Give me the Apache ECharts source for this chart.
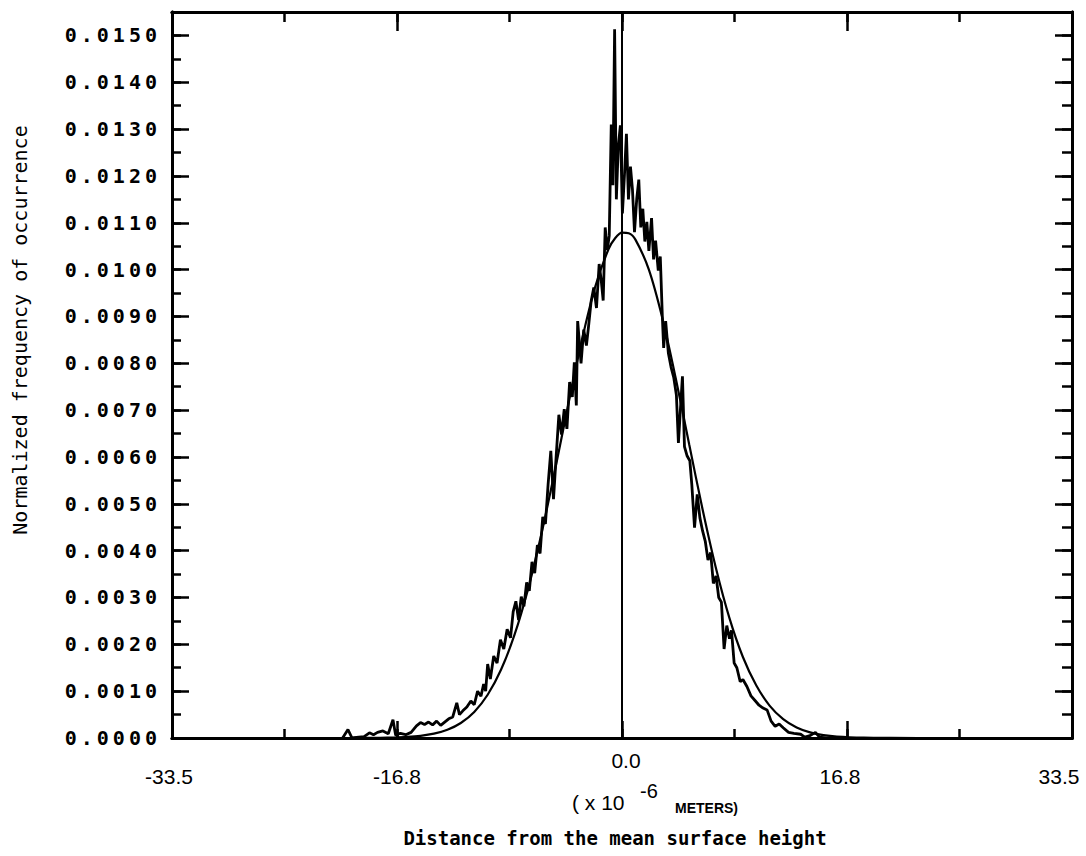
<!DOCTYPE html>
<html><head><meta charset="utf-8">
<script src="https://cdn.jsdelivr.net/npm/echarts@6/dist/echarts.min.js"></script>
<style>
html,body{margin:0;padding:0;background:#fff}
#c{width:1086px;height:856px}
#c text[text-anchor="end"]{letter-spacing:4px}
</style>
</head><body><div id="c"></div>
<script>
// X tick values and their printed labels
const xTickValues = [-33.5, -16.75, 0, 16.75, 33.5];
const xTickLabels = ['-33.5', '-16.8', '0.0', '16.8', '33.5'];

// Fitted normal curve
const fitU = [-33.5, -24, -20, -18, -17, -16, -15, -14, -13, -12, -11, -10, -9, -8, -7, -6, -5, -4, -3, -2, -1, -0.5, 0, 0.5, 1, 2, 3, 4, 5, 6, 7, 8, 9, 10, 11, 12, 13, 14, 15, 16, 18, 20, 24, 33.5];
const fitV = [0, 0, 0.000001, 0.000004, 0.00001, 0.000022, 0.000046, 0.000092, 0.000176, 0.000321, 0.000557, 0.000924, 0.001462, 0.002205, 0.003172, 0.004355, 0.0057, 0.00712, 0.00848, 0.00963, 0.01044, 0.010676, 0.01079, 0.010777, 0.01064, 0.0100, 0.00897, 0.00768, 0.00627, 0.00488, 0.00362, 0.00256, 0.00173, 0.00112, 0.000687, 0.000403, 0.000225, 0.00012, 0.000061, 0.00003, 0.000006, 0.000001, 0, 0];

const histU = [-20.8, -20.4, -20.1, -19.6, -19.2, -18.8, -18.5, -18.2, -17.8, -17.4, -17.05, -16.85, -16.5, -16.1, -15.7, -15.3, -15.0, -14.7, -14.4, -14.1, -13.8, -13.5, -13.2, -12.9, -12.6, -12.3, -12.1, -11.85, -11.55, -11.25, -11.0, -10.75, -10.5, -10.3, -10.15, -10.0, -9.8, -9.55, -9.3, -9.05, -8.8, -8.55, -8.3, -8.1, -7.9, -7.7, -7.5, -7.3, -7.1, -6.9, -6.7, -6.5, -6.3, -6.1, -5.9, -5.7, -5.5, -5.3, -5.1, -4.9, -4.7, -4.5, -4.3, -4.1, -3.9, -3.7, -3.55, -3.4, -3.3, -3.05, -2.85, -2.65, -2.5, -2.3, -2.1, -1.9, -1.7, -1.55, -1.4, -1.25, -1.1, -0.95, -0.8, -0.68, -0.55, -0.42, -0.28, -0.12, 0.03, 0.18, 0.33, 0.48, 0.63, 0.78, 0.93, 1.1, 1.25, 1.4, 1.55, 1.7, 1.85, 2.0, 2.2, 2.35, 2.5, 2.7, 2.85, 3.0, 3.1, 3.25, 3.45, 3.65, 3.85, 4.05, 4.2, 4.35, 4.5, 4.65, 4.85, 5.05, 5.2, 5.4, 5.6, 5.8, 6.0, 6.2, 6.4, 6.6, 6.8, 7.0, 7.2, 7.4, 7.6, 7.8, 8.0, 8.15, 8.35, 8.55, 8.8, 9.0, 9.3, 9.6, 9.9, 10.2, 10.5, 10.8, 11.1, 11.4, 11.7, 12.0, 12.4, 12.8, 13.3, 13.6, 14.0, 14.4, 14.7, 15.2, 15.6, 16.0];
const histV = [0, 0.00018, 0, 0.00002, 0.00003, 0.00011, 0.00007, 0.00012, 0.00015, 0.00009, 0.00039, 0.00006, 0.00010, 0.00007, 0.00012, 0.00026, 0.00033, 0.00029, 0.00034, 0.00028, 0.00036, 0.00027, 0.00034, 0.00041, 0.00045, 0.00075, 0.00050, 0.00058, 0.00066, 0.00079, 0.00071, 0.00100, 0.00089, 0.00115, 0.00100, 0.00158, 0.00126, 0.00175, 0.00160, 0.00210, 0.00190, 0.00232, 0.00214, 0.00270, 0.00292, 0.00252, 0.00302, 0.00281, 0.00332, 0.00314, 0.00376, 0.00352, 0.00412, 0.00394, 0.00472, 0.00457, 0.00542, 0.00613, 0.00510, 0.00602, 0.00690, 0.00648, 0.00702, 0.00660, 0.00760, 0.00728, 0.00802, 0.00710, 0.00890, 0.00800, 0.00872, 0.00838, 0.00876, 0.00932, 0.00962, 0.00918, 0.01012, 0.00978, 0.00934, 0.01090, 0.01042, 0.01072, 0.01310, 0.01180, 0.01513, 0.01150, 0.01262, 0.01308, 0.01120, 0.01200, 0.01290, 0.01150, 0.01220, 0.01170, 0.01080, 0.01152, 0.01192, 0.01090, 0.01130, 0.01060, 0.01102, 0.01040, 0.01110, 0.01022, 0.01062, 0.00998, 0.01028, 0.00902, 0.00833, 0.00890, 0.00822, 0.00792, 0.00770, 0.00732, 0.00630, 0.00702, 0.00772, 0.00622, 0.00602, 0.00592, 0.00540, 0.00449, 0.00520, 0.00470, 0.00442, 0.00420, 0.00380, 0.00396, 0.00330, 0.00346, 0.00300, 0.00290, 0.00190, 0.00240, 0.00212, 0.00230, 0.00160, 0.00150, 0.00120, 0.00125, 0.00110, 0.00090, 0.00080, 0.00070, 0.00064, 0.00060, 0.00036, 0.00025, 0.00030, 0.00022, 0.00012, 0.00010, 0.00008, 0.00002, 0.00005, 0.00012, 0.00002, 0, 0.00001, 0];

const X_MIN = -33.5, X_MAX = 33.5, Y_MIN = 0, Y_MAX = 0.0155;

const chart = echarts.init(document.getElementById('c'), null, { renderer: 'svg' });
const BLACK = '#000';
const lineW = 3;
const XFONT = 21;

function xIdx(v) {
  for (let i = 0; i < xTickValues.length; i++) if (Math.abs(v - xTickValues[i]) < 1e-6) return i;
  return -1;
}
function xAx(position, interval, tickLen, withLabels) {
  return {
    type: 'value', position: position, min: X_MIN, max: X_MAX, interval: interval,
    axisLine: { show: true, onZero: false, lineStyle: { color: BLACK, width: lineW } },
    axisTick: { show: true, inside: true, length: tickLen, lineStyle: { color: BLACK, width: 2.5 } },
    splitLine: { show: false },
    axisLabel: withLabels ? {
      show: true, margin: 12, showMinLabel: true, showMaxLabel: true,
      formatter: function (v) {
        const i = xIdx(v);
        if (i < 0) return '';
        const s = xTickLabels[i];
        if (i === 2) return '{z|' + s + '}';
        if (i === 4) return '{r|' + s + '}';
        if (i === 3) return '{q|' + s + '}';
        if (i === 0) return '{p|' + s + '}';
        return '{n|' + s + '}';
      },
      rich: {
        z: { fontFamily: 'Liberation Sans', fontSize: XFONT, color: BLACK, padding: [0, 0, 0, 8] },
        n: { fontFamily: 'Liberation Sans', fontSize: XFONT, color: BLACK, padding: [16, 0, 0, 0] },
        p: { fontFamily: 'Liberation Sans', fontSize: XFONT, color: BLACK, padding: [16, 6, 0, 0] },
        q: { fontFamily: 'Liberation Sans', fontSize: XFONT, color: BLACK, padding: [16, 14, 0, 0] },
        r: { fontFamily: 'Liberation Sans', fontSize: XFONT, color: BLACK, padding: [16, 26, 0, 0] }
      }
    } : { show: false }
  };
}
function yAx(position, interval, tickLen, withLabels) {
  return {
    type: 'value', position: position, min: Y_MIN, max: Y_MAX, interval: interval,
    axisLine: { show: true, onZero: false, lineStyle: { color: BLACK, width: lineW } },
    axisTick: { show: true, inside: true, length: tickLen, lineStyle: { color: BLACK, width: 2.5 } },
    splitLine: { show: false },
    axisLabel: withLabels ? {
      show: true, margin: 11, showMaxLabel: false,
      fontFamily: 'DejaVu Sans Mono', fontWeight: 'bold', fontSize: 20, color: BLACK,
      formatter: function (v) { return v > 0.01505 ? '' : v.toFixed(4); }
    } : { show: false }
  };
}

const option = {
  animation: false,
  backgroundColor: '#fff',
  grid: { left: 172, right: 14, top: 12, bottom: 118, containLabel: false },
  xAxis: [
    xAx('bottom', 16.75, 17, true),
    xAx('bottom', 8.375, 9, false),
    xAx('top', 16.75, 19, false),
    xAx('top', 8.375, 10, false)
  ],
  yAxis: [
    yAx('left', 0.001, 17, true),
    yAx('left', 0.0005, 9, false),
    yAx('right', 0.001, 17, false),
    yAx('right', 0.0005, 10, false)
  ],
  series: [
    {
      name: 'histogram', type: 'line', xAxisIndex: 0, yAxisIndex: 0,
      data: histU.map((u, i) => [u, histV[i]]),
      symbol: 'none', lineStyle: { color: BLACK, width: 2.8 }, z: 3,
      markLine: {
        silent: true, symbol: ['none', 'none'], label: { show: false },
        lineStyle: { color: BLACK, width: 2, type: 'solid' },
        data: [{ xAxis: 0 }]
      }
    },
    {
      name: 'fit', type: 'line', xAxisIndex: 0, yAxisIndex: 0,
      data: fitU.map((u, i) => [u, fitV[i]]),
      symbol: 'none', smooth: 0.3, lineStyle: { color: BLACK, width: 2.2 }, z: 2
    }
  ],
  graphic: [
    { type: 'text', x: 20, y: 330, rotation: Math.PI / 2,
      style: { text: 'Normalized frequency of occurrence', fontFamily: 'DejaVu Sans Mono', fontSize: 20, fill: BLACK, align: 'center', verticalAlign: 'middle' } },
    { type: 'text', x: 572, y: 802,
      style: { text: '( x 10', fontFamily: 'Liberation Sans', fontSize: 21, fill: BLACK, align: 'left', verticalAlign: 'middle' } },
    { type: 'text', x: 640, y: 791,
      style: { text: '-6', fontFamily: 'Liberation Sans', fontSize: 20, fill: BLACK, align: 'left', verticalAlign: 'middle' } },
    { type: 'text', x: 675, y: 808,
      style: { text: 'METERS)', fontFamily: 'Liberation Sans', fontWeight: 'bold', fontSize: 14, fill: BLACK, align: 'left', verticalAlign: 'middle' } },
    { type: 'text', x: 615, y: 838,
      style: { text: 'Distance from the mean surface height', fontFamily: 'DejaVu Sans Mono', fontWeight: 'bold', fontSize: 19, fill: BLACK, align: 'center', verticalAlign: 'middle' } }
  ]
};
chart.setOption(option);
</script>
</body></html>
